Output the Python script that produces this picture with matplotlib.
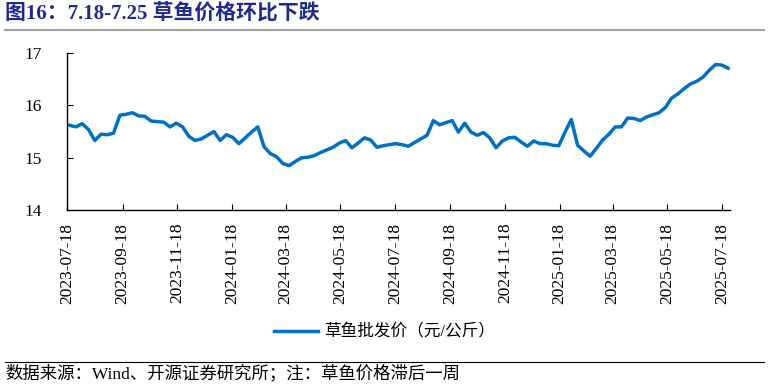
import pandas as pd
import matplotlib.pyplot as plt
import matplotlib.dates as mdates
from matplotlib.lines import Line2D

plt.rcParams['font.family'] = ['Liberation Serif', 'Noto Sans CJK SC']

# weekly grass carp wholesale price (yuan/kg)
price = [15.62, 15.59, 15.65, 15.54, 15.33, 15.45, 15.44, 15.47, 15.81, 15.83,
         15.86, 15.80, 15.79, 15.70, 15.69, 15.68, 15.59, 15.66, 15.59, 15.41,
         15.33, 15.36, 15.43, 15.50, 15.33, 15.44, 15.39, 15.27, 15.38, 15.49,
         15.59, 15.21, 15.08, 15.02, 14.89, 14.85, 14.93, 15.00, 15.01, 15.04,
         15.10, 15.15, 15.20, 15.28, 15.33, 15.19, 15.28, 15.38, 15.34, 15.20,
         15.23, 15.25, 15.27, 15.25, 15.22, 15.29, 15.36, 15.43, 15.71, 15.63,
         15.67, 15.71, 15.49, 15.66, 15.49, 15.43, 15.48, 15.38, 15.19, 15.32,
         15.38, 15.39, 15.30, 15.22, 15.32, 15.27, 15.27, 15.24, 15.23, 15.49,
         15.73, 15.24, 15.13, 15.03, 15.18, 15.34, 15.45, 15.59, 15.59, 15.76,
         15.75, 15.71, 15.78, 15.82, 15.86, 15.96, 16.14, 16.22, 16.32, 16.41,
         16.46, 16.54, 16.67, 16.78, 16.77, 16.71]
dates = pd.date_range(end='2025-07-25', periods=len(price), freq='7D')
tick_dates = pd.to_datetime(['2023-07-18', '2023-09-18', '2023-11-18', '2024-01-18',
                             '2024-03-18', '2024-05-18', '2024-07-18', '2024-09-18',
                             '2024-11-18', '2025-01-18', '2025-03-18', '2025-05-18',
                             '2025-07-18'])

title = '图16：7.18-7.25 草鱼价格环比下跌'
legend_label = '草鱼批发价（元/公斤）'
source = '数据来源：Wind、开源证券研究所；注：草鱼价格滞后一周'

fig = plt.figure(figsize=(7.69, 3.87), dpi=100)
ax = fig.add_axes([0.0871, 0.457, 0.862, 0.406])
line, = ax.plot(dates, price, color='#0070C0', lw=2.5, label=legend_label)

ax.set_ylim(14, 17)
ax.set_yticks([14, 15, 16, 17])
ax.set_xlim(pd.Timestamp('2023-07-18'), pd.Timestamp('2025-07-27'))
ax.set_xticks(tick_dates)
ax.xaxis.set_major_formatter(mdates.DateFormatter('%Y-%m-%d'))
ax.tick_params(axis='x', direction='in', length=4, labelsize=12.5, rotation=90, pad=9)
ax.tick_params(axis='y', direction='in', length=4, labelsize=12.5, pad=18)
for s in ['top', 'right']:
    ax.spines[s].set_visible(False)
for s in ['left', 'bottom']:
    ax.spines[s].set_linewidth(1.0)

fig.legend(handles=[line], loc='center', bbox_to_anchor=(0.5, 0.14), frameon=False,
           fontsize=12, handlelength=2.6, handletextpad=0.35)

fig.text(0.007, 0.963, title, fontsize=15, fontweight='bold', color='#1F2A8A',
         ha='left', va='center')
fig.add_artist(Line2D([0.007, 0.993], [0.922, 0.922], color='#a0a0a0', lw=1.5))
fig.add_artist(Line2D([0.007, 0.993], [0.065, 0.065], color='black', lw=0.8))
fig.text(0.007, 0.035, source, fontsize=12.5, ha='left', va='center')

fig.savefig('out.png', dpi=100)
